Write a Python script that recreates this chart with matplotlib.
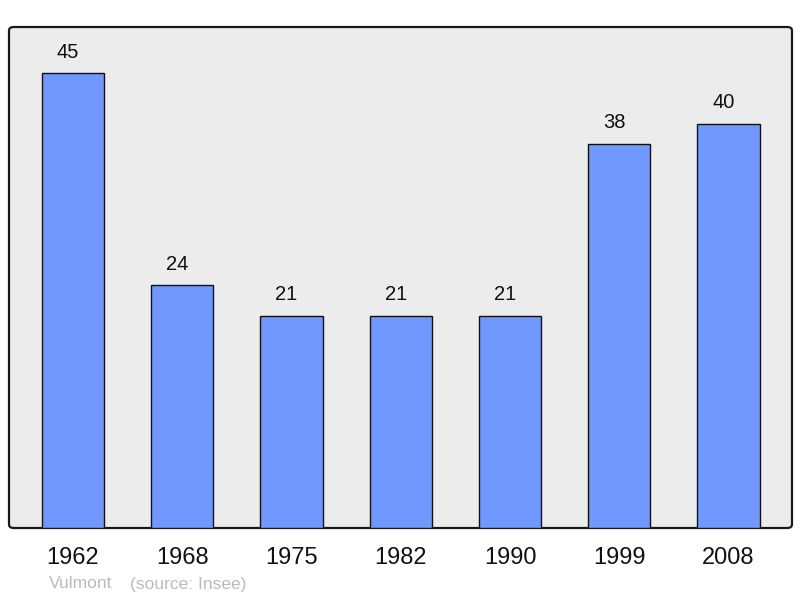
import matplotlib
matplotlib.use("Agg")
import matplotlib.pyplot as plt
from matplotlib.patches import FancyBboxPatch

years = ["1962", "1968", "1975", "1982", "1990", "1999", "2008"]
population = [45, 24, 21, 21, 21, 38, 40]
town = "Vulmont"
source = "(source: Insee)"

BAR = "#7098ff"
BG = "#ececec"

plt.rcParams["font.family"] = ["Liberation Sans", "DejaVu Sans"]

fig = plt.figure(figsize=(8.0, 5.98), dpi=100)
W, H = 800, 598
x0, x1, y0, y1 = 9, 792, 27, 528
ax = fig.add_axes([x0 / W, 1 - y1 / H, (x1 - x0) / W, (y1 - y0) / H])
ax.set_facecolor("none")
for sp in ax.spines.values():
    sp.set_visible(False)

# rounded frame behind the bars
frame = FancyBboxPatch((x0 / W, 1 - y1 / H), (x1 - x0) / W, (y1 - y0) / H,
                       boxstyle="round,pad=0,rounding_size=0.006",
                       transform=fig.transFigure, facecolor=BG,
                       edgecolor="#1a1a1a", lw=1.6, zorder=-1)
fig.patches.append(frame)

xs = range(len(years))
ax.bar(xs, population, width=0.57, color=BAR, edgecolor="#111111",
       linewidth=1.0, zorder=2)
for x, v in zip(xs, population):
    ax.annotate(str(v), (x, v), xytext=(-3.6, 15), textcoords="offset points",
                ha="center", va="center", fontsize=14.5, color="#111111")

ax.set_xlim(-0.585, 6.58)
ax.set_ylim(0, 49.55)
ax.set_yticks([])
ax.set_xticks(list(xs), years, fontsize=17)
ax.tick_params(axis="x", length=0, pad=14, colors="#111111")

fig.text(49 / W, 1 - 584 / H, town, fontsize=12.5, color="#bbbbbb",
         va="center", ha="left")
fig.text(130 / W, 1 - 584 / H, source, fontsize=12.5, color="#bbbbbb",
         va="center", ha="left")

fig.savefig("out.png", dpi=100)
